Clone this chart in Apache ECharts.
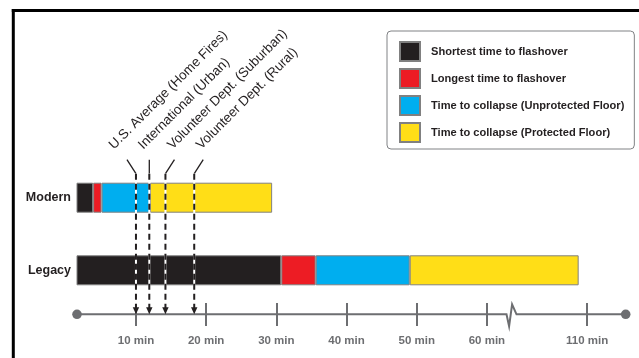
<!DOCTYPE html>
<html>
<head>
<meta charset="utf-8">
<script src="https://cdn.jsdelivr.net/npm/echarts@6/dist/echarts.min.js"></script>
<style>
  html, body { margin: 0; padding: 0; background: #ffffff; }
  #chart { width: 639px; height: 358px; }
</style>
</head>
<body>
<div id="chart"></div>
<script>
// Fire development timeline: modern vs legacy rooms (minutes)
const categories = ['Modern', 'Legacy'];
const seriesNames = [
  'Shortest time to flashover',
  'Longest time to flashover',
  'Time to collapse (Unprotected Floor)',
  'Time to collapse (Protected Floor)'
];
// minute at which each phase ends, one entry per category
const shortestFlashover = [3.9, 30.7];
const longestFlashover = [5.1, 35.6];
const collapseUnprotected = [12.0, 49.0];
const collapseProtected = [29.4, 108.8];

// timeline ticks (minutes)
const tickValues = [10, 20, 30, 40, 50, 60, 110];

// fire department response times (minutes)
const responseLabels = [
  'U.S. Average (Home Fires)',
  'International (Urban)',
  'Volunteer Dept. (Suburban)',
  'Volunteer Dept. (Rural)'
];
const responseTimes = [10, 11.9, 14.2, 18.3];

// timeline extent and the skipped stretch between 60 and 110 min
const axisStart = 1.6;
const axisEnd = 115.5;
const skipStart = 63.5;
const skipEnd = 106.5;

const FONT = '"Liberation Sans", Arial, sans-serif';
const colors = ['#231f20', '#ed1c24', '#00aeef', '#ffde17'];
const GRAY = '#6d6e71';

// leader line and label offsets for each response marker
const leaderShift = [-9, 0, 9, 9];
const labelShift = [-20, -4, 9, 9];

const phaseEnds = [shortestFlashover, longestFlashover, collapseUnprotected, collapseProtected];

const barSeries = seriesNames.map((name, i) => ({
  name: name,
  type: 'bar',
  stack: 'timeline',
  barWidth: 30,
  clip: true,
  silent: true,
  itemStyle: { color: colors[i], borderColor: '#808080', borderWidth: 1 },
  data: categories.map((c, j) => +(phaseEnds[i][j] - (i ? phaseEnds[i - 1][j] : 0)).toFixed(2))
}));

const responseSeries = {
  type: 'custom',
  name: 'response',
  clip: false,
  silent: true,
  z: 10,
  data: responseTimes.map(t => [t, 0]),
  renderItem: function (params, api) {
    const i = params.dataIndex;
    const x = api.coord([api.value(0), 0])[0];
    const yModern = api.coord([0, 0])[1];
    const yLegacy = api.coord([0, 1])[1];
    const topY = yModern - 38;
    const kneeY = yModern - 24;
    const tipY = yLegacy + 44;
    const lx = x + leaderShift[i];
    return {
      type: 'group',
      children: [
        { type: 'polyline', shape: { points: [[lx, topY], [x, kneeY]] },
          style: { stroke: '#231f20', lineWidth: 1.3, fill: null } },
        { type: 'line', shape: { x1: x, y1: kneeY, x2: x, y2: tipY - 6 },
          style: { stroke: '#ffffff', lineWidth: 2 } },
        { type: 'line', shape: { x1: x, y1: kneeY, x2: x, y2: tipY - 6 },
          style: { stroke: '#231f20', lineWidth: 2, lineDash: [6, 4] } },
        { type: 'polygon', shape: { points: [[x - 3.2, tipY - 7], [x + 3.2, tipY - 7], [x, tipY]] },
          style: { fill: '#231f20' } },
        { type: 'text', x: x + labelShift[i], y: topY - 8, rotation: Math.PI / 4,
          style: { text: responseLabels[i], x: 0, y: 0, align: 'left', verticalAlign: 'bottom',
                   font: '13.4px ' + FONT, fill: '#231f20' } }
      ]
    };
  }
};

const chart = echarts.init(document.getElementById('chart'), null, { renderer: 'canvas' });

chart.setOption({
  animation: false,
  backgroundColor: '#ffffff',
  textStyle: { fontFamily: FONT },
  grid: { left: 77, right: 13.3, top: 161.4, bottom: 51.4 },
  legend: {
    orient: 'vertical',
    left: 387,
    top: 31,
    padding: [10, 10, 6, 12],
    itemWidth: 20,
    itemHeight: 19,
    itemGap: 6,
    icon: 'rect',
    selectedMode: false,
    borderColor: '#808285',
    borderWidth: 1,
    borderRadius: 4,
    data: seriesNames,
    textStyle: { fontFamily: FONT, fontWeight: 'bold', fontSize: 11.1, color: '#231f20', padding: [0, 0, 0, 6] }
  },
  xAxis: {
    type: 'value',
    min: axisStart,
    max: axisEnd,
    position: 'bottom',
    offset: 19.4,
    breaks: [{ start: skipStart, end: skipEnd, gap: '9.3%' }],
    breakArea: { show: false, itemStyle: { color: 'rgba(0,0,0,0)', borderColor: 'rgba(0,0,0,0)', opacity: 0 } },
    axisLine: { show: false },
    splitLine: { show: false },
    axisTick: { show: true, inside: true, length: 23, customValues: tickValues,
                lineStyle: { color: GRAY, width: 2 } },
    axisLabel: { customValues: tickValues, formatter: '{value} min', margin: 9,
                 fontFamily: FONT, fontWeight: 'bold', fontSize: 11.5, color: GRAY }
  },
  yAxis: {
    type: 'category',
    inverse: true,
    data: categories,
    axisLine: { show: false },
    axisTick: { show: false },
    axisLabel: { margin: 6, fontFamily: FONT, fontWeight: 'bold', fontSize: 12.5, color: '#231f20' }
  },
  series: barSeries.concat([responseSeries])
});

// timeline baseline with end dots and a zigzag where the scale is skipped
function drawTimeline() {
  const x0 = chart.convertToPixel({ xAxisIndex: 0 }, axisStart);
  const x1 = chart.convertToPixel({ xAxisIndex: 0 }, axisEnd);
  const xs = chart.convertToPixel({ xAxisIndex: 0 }, skipStart);
  const y = chart.convertToPixel({ yAxisIndex: 0 }, 1) + 44;
  chart.setOption({
    graphic: [
      { type: 'polyline', z: 1, silent: true,
        shape: { points: [[x0, y], [xs - 5, y], [xs - 2.4, y + 12], [xs + 0.6, y - 10], [xs + 5, y], [x1, y]] },
        style: { stroke: GRAY, lineWidth: 2, fill: null } },
      { type: 'circle', z: 2, silent: true, shape: { cx: x0, cy: y, r: 4.8 }, style: { fill: GRAY } },
      { type: 'circle', z: 2, silent: true, shape: { cx: x1, cy: y, r: 4.8 }, style: { fill: GRAY } },
      // page frame
      { type: 'line', z: 3, silent: true, shape: { x1: 11.8, y1: 10.5, x2: 639, y2: 10.5 },
        style: { stroke: '#000000', lineWidth: 3 } },
      { type: 'line', z: 3, silent: true, shape: { x1: 13.3, y1: 9, x2: 13.3, y2: 358 },
        style: { stroke: '#000000', lineWidth: 3 } }
    ]
  });
}
drawTimeline();
</script>
</body>
</html>
